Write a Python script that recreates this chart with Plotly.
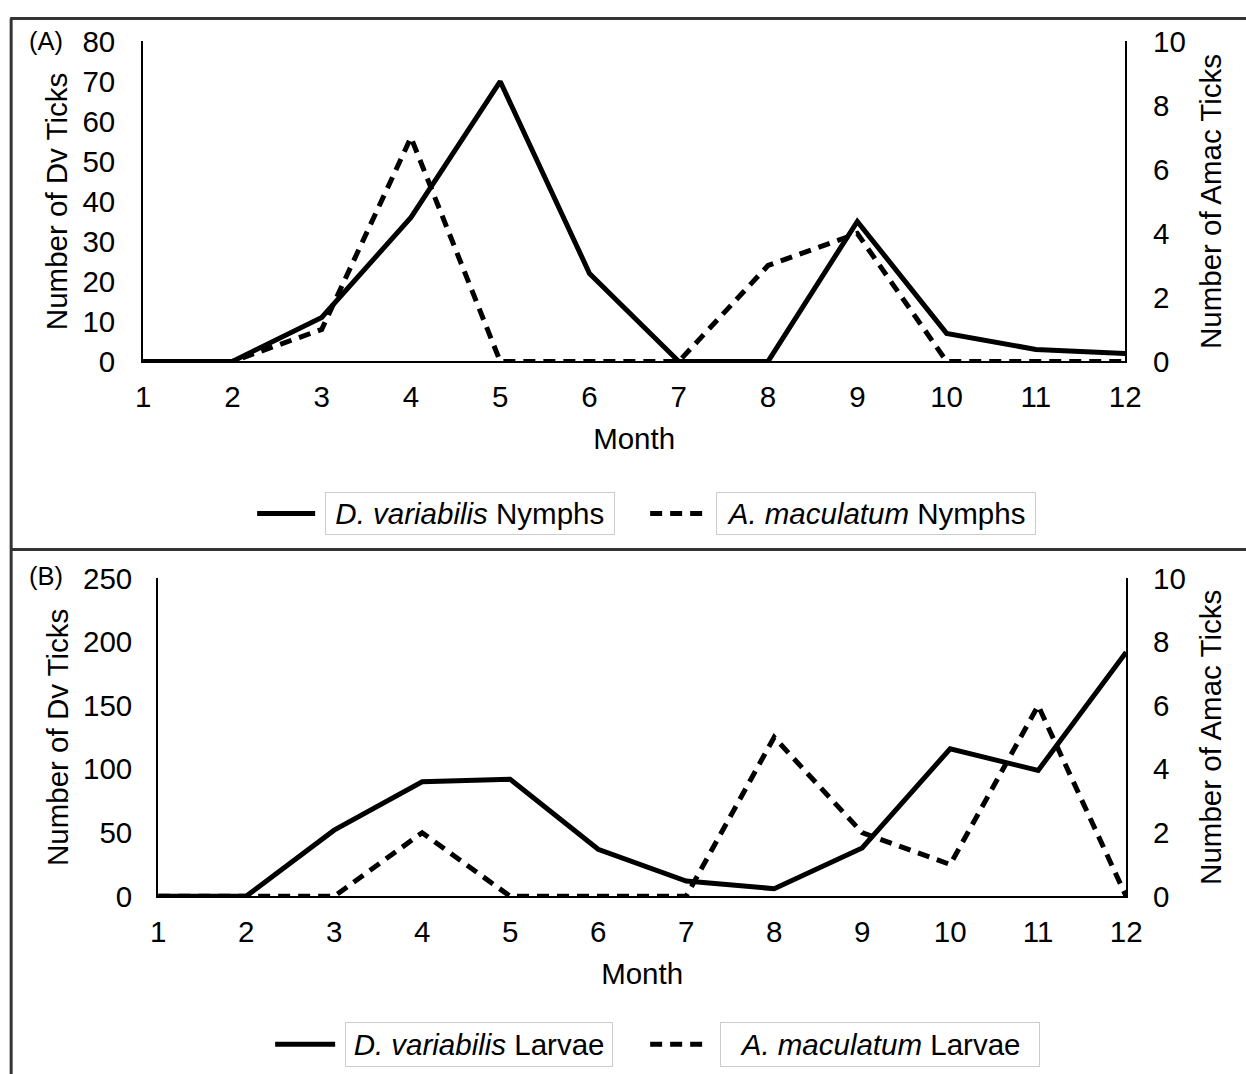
import plotly.graph_objects as go

# ---- data ----
months = [1, 2, 3, 4, 5, 6, 7, 8, 9, 10, 11, 12]
dv_nymphs = [0, 0, 11, 36, 70, 22, 0, 0, 35, 7, 3, 2]
amac_nymphs = [0, 0, 1, 7, 0, 0, 0, 3, 4, 0, 0, 0]
dv_larvae = [0, 0, 52, 90, 92, 37, 12, 6, 38, 116, 99, 192]
amac_larvae = [0, 0, 0, 2, 0, 0, 0, 5, 2, 1, 6, 0]

legend_a = ["<i>D. variabilis</i> Nymphs", "<i>A. maculatum</i> Nymphs"]
legend_b = ["<i>D. variabilis</i> Larvae", "<i>A. maculatum</i> Larvae"]

# Mapping from target screen pixels to figure pixels (measured render transform)
SX, SY = 0.981, 0.970
TX, TY = 7.85, 15.5
W, H = 1263, 1092


def fx(x):
    return (x - TX) / SX


def fy(y):
    return (y - TY) / SY


def px(x):
    return fx(x) / W


def py(y):
    return 1 - fy(y) / H


FONT = "Liberation Sans, Arial, Helvetica, sans-serif"
FS = 29.5
SOLID = dict(color="black", width=5)
DASH = dict(color="black", width=5, dash="12px,8px")

fig = go.Figure()
fig.add_trace(go.Scatter(x=months, y=dv_nymphs, xaxis="x", yaxis="y", mode="lines",
                         line=SOLID, name="D. variabilis Nymphs", showlegend=False))
fig.add_trace(go.Scatter(x=months, y=amac_nymphs, xaxis="x", yaxis="y2", mode="lines",
                         line=DASH, name="A. maculatum Nymphs", showlegend=False))
fig.add_trace(go.Scatter(x=months, y=dv_larvae, xaxis="x2", yaxis="y3", mode="lines",
                         line=SOLID, name="D. variabilis Larvae", showlegend=False))
fig.add_trace(go.Scatter(x=months, y=amac_larvae, xaxis="x2", yaxis="y4", mode="lines",
                         line=DASH, name="A. maculatum Larvae", showlegend=False))

axis_common = dict(showline=True, linecolor="black", linewidth=2, showgrid=False,
                   zeroline=False, ticks="", tickfont=dict(size=FS))
TF = dict(size=FS)

fig.update_layout(
    width=W, height=H,
    margin=dict(l=0, r=0, t=0, b=0),
    paper_bgcolor="white", plot_bgcolor="white",
    font=dict(family=FONT, size=FS, color="black"),
    xaxis=dict(domain=[px(143), px(1125)], anchor="y", range=[1, 12], dtick=1,
               title=dict(text="Month", standoff=17, font=TF), ticklabelstandoff=8, **axis_common),
    yaxis=dict(domain=[py(360), py(40)], anchor="x", range=[0, 80], dtick=10,
               title=dict(text="Number of Dv Ticks", standoff=6, font=TF), ticklabelstandoff=20,
               **axis_common),
    yaxis2=dict(overlaying="y", side="right", anchor="x", range=[0, 10], dtick=2,
                title=dict(text="Number of Amac Ticks", standoff=15, font=TF), ticklabelstandoff=20,
                **axis_common),
    xaxis2=dict(domain=[px(158), px(1126)], anchor="y3", range=[1, 12], dtick=1,
                title=dict(text="Month", standoff=17, font=TF), ticklabelstandoff=8, **axis_common),
    yaxis3=dict(domain=[py(895), py(577)], anchor="x2", range=[0, 250], dtick=50,
                title=dict(text="Number of Dv Ticks", standoff=6, font=TF), ticklabelstandoff=18,
                **axis_common),
    yaxis4=dict(overlaying="y3", side="right", anchor="x2", range=[0, 10], dtick=2,
                title=dict(text="Number of Amac Ticks", standoff=15, font=TF), ticklabelstandoff=19,
                **axis_common),
    showlegend=False,
)

top_y = 1 - 1.5 / H
shapes = [
    # panel borders
    dict(type="line", xref="paper", yref="paper", x0=px(10), x1=1, y0=top_y, y1=top_y,
         line=dict(color="#333333", width=3)),
    dict(type="line", xref="paper", yref="paper", x0=px(11), x1=px(11), y0=top_y, y1=0,
         line=dict(color="#333333", width=3)),
    dict(type="line", xref="paper", yref="paper", x0=px(10), x1=1, y0=py(548), y1=py(548),
         line=dict(color="#333333", width=3)),
    # legend samples
    dict(type="line", xref="paper", yref="paper", x0=px(257), x1=px(315), y0=py(512), y1=py(512),
         line=dict(color="black", width=5)),
    dict(type="line", xref="paper", yref="paper", x0=px(650), x1=px(706), y0=py(512), y1=py(512),
         line=dict(color="black", width=5, dash="12px,8px")),
    dict(type="line", xref="paper", yref="paper", x0=px(275), x1=px(335), y0=py(1043), y1=py(1043),
         line=dict(color="black", width=5)),
    dict(type="line", xref="paper", yref="paper", x0=px(650), x1=px(710), y0=py(1043), y1=py(1043),
         line=dict(color="black", width=5, dash="12px,8px")),
]

annotations = [
    dict(text="(A)", x=px(46), y=py(40), xref="paper", yref="paper", showarrow=False,
         font=dict(size=25.5), xanchor="center", yanchor="middle"),
    dict(text="(B)", x=px(46), y=py(575), xref="paper", yref="paper", showarrow=False,
         font=dict(size=25.5), xanchor="center", yanchor="middle"),
]


def leg_box(text, x0, x1, yc, h):
    return dict(text=text, x=px(x0), y=py(yc), xref="paper", yref="paper", showarrow=False,
                xanchor="left", yanchor="middle", width=(x1 - x0) / SX - 6, height=h / SY - 2,
                align="center", valign="middle", bordercolor="#cccccc", borderwidth=1,
                borderpad=0, font=dict(size=FS))


annotations += [
    leg_box(legend_a[0], 325, 613, 512, 42),
    leg_box(legend_a[1], 716, 1034, 512, 42),
    leg_box(legend_b[0], 345, 612, 1043, 44),
    leg_box(legend_b[1], 720, 1038, 1043, 44),
]

fig.update_layout(shapes=shapes, annotations=annotations)
fig.write_html("out.html")
